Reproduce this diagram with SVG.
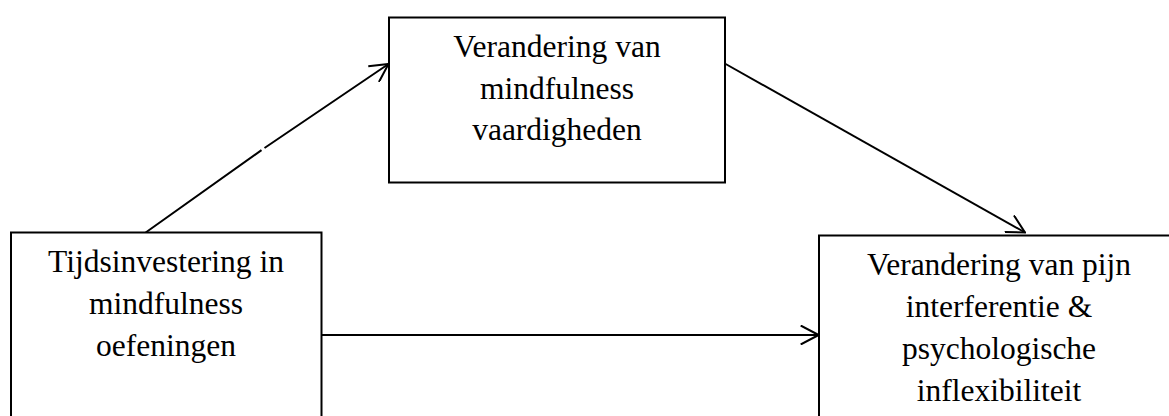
<svg xmlns="http://www.w3.org/2000/svg" width="1169" height="416" viewBox="0 0 1169 416">
  <defs>
    <marker id="open-arrow" viewBox="0 0 20 20" refX="19" refY="10" markerWidth="20" markerHeight="20" markerUnits="userSpaceOnUse" orient="auto">
      <path d="M1,0.5 L19,10 L1,19.5" fill="none" stroke="#000" stroke-width="2"/>
    </marker>
    <style>
      .box { fill: #fff; stroke: #000; stroke-width: 2; }
      .label { font-family: "Liberation Serif", "Times New Roman", serif; font-size: 31.5px; fill: #000; text-anchor: middle; }
      .edge { fill: none; stroke: #000; stroke-width: 2; marker-end: url(#open-arrow); }
    </style>
  </defs>
  <rect width="1169" height="416" fill="#fff"/>

  <!-- connectors -->
  <g id="connectors">
    <path class="edge" d="M145.7,232.5 L261.5,150.1 M264.5,148 L388.5,64"/>
    <path class="edge" d="M725.7,64 L1025,232.5"/>
    <path class="edge" d="M321.5,335 L818.7,335"/>
  </g>

  <!-- mediator -->
  <g id="node-mediator">
    <rect class="box" x="389" y="17.5" width="336" height="165"/>
    <text class="label" x="557" y="57">Verandering van</text>
    <text class="label" x="557" y="99">mindfulness</text>
    <text class="label" x="557" y="140">vaardigheden</text>
  </g>

  <!-- predictor -->
  <g id="node-predictor">
    <rect class="box" x="11" y="232.5" width="310.5" height="200"/>
    <text class="label" x="166" y="272">Tijdsinvestering in</text>
    <text class="label" x="166" y="314">mindfulness</text>
    <text class="label" x="166" y="356">oefeningen</text>
  </g>

  <!-- outcome -->
  <g id="node-outcome">
    <rect class="box" x="819" y="235.5" width="360" height="200"/>
    <text class="label" x="999" y="275">Verandering van pijn</text>
    <text class="label" x="999" y="317">interferentie &amp;</text>
    <text class="label" x="999" y="359">psychologische</text>
    <text class="label" x="999" y="401">inflexibiliteit</text>
  </g>
</svg>
